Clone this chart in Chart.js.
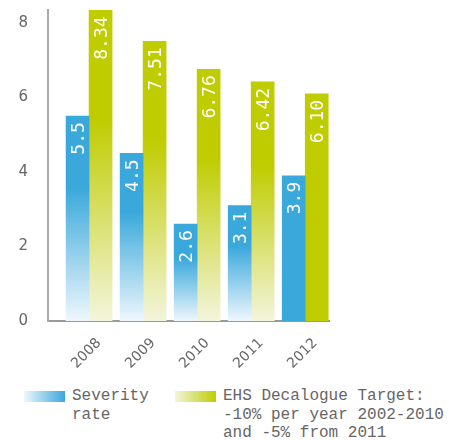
<!DOCTYPE html>
<html>
<head>
<meta charset="utf-8">
<script src="https://cdn.jsdelivr.net/npm/chart.js@4/dist/chart.umd.min.js"></script>
<style>
    body { margin: 0; background: #fff; }
    #wrap { position: relative; width: 449px; height: 440px; }
    #js--chart { position: absolute; left: 0; top: 0; }
    .legend { position: absolute; font: 16px "Liberation Mono", monospace; color: #666; line-height: 18.5px; white-space: pre; }
    .swatch { position: absolute; width: 41px; height: 11px; }
</style>
</head>
<body>
<div id="wrap">
    <canvas id="js--chart" width="449" height="372"></canvas>
    <div class="swatch" style="left:24px; top:391px; background: linear-gradient(to right, #eef7fd, #3aa8db);"></div>
    <div class="legend" style="left:72px; top:387px;">Severity
rate</div>
    <div class="swatch" style="left:175px; top:391px; background: linear-gradient(to right, #f3f5dc, #bfcc00);"></div>
    <div class="legend" style="left:223px; top:387px;">EHS Decalogue Target:
-10% per year 2002-2010
and -5% from 2011</div>
</div>
<script>
const years = [2008, 2009, 2010, 2011, 2012];
const severity = [5.5, 4.5, 2.6, 3.1, 3.9];
const target = [8.34, 7.51, 6.76, 6.42, 6.10];
const yTicks = [0, 2, 4, 6, 8];

const blue = '#3aa8db';
const green = '#bfcc00';

// past years fade out towards the axis, the current year stays solid
function fade(color, light) {
    return function (ctx) {
        const chart = ctx.chart;
        if (!chart.chartArea || ctx.type !== 'data') return color;
        if (ctx.dataIndex === years.length - 1) return color;
        const y = chart.scales.y;
        const top = y.getPixelForValue(ctx.raw.y);
        const bottom = y.getPixelForValue(0);
        const g = chart.ctx.createLinearGradient(0, top, 0, bottom);
        g.addColorStop(0, color);
        g.addColorStop(0.35, color);
        g.addColorStop(1, light);
        return g;
    };
}

// values written up the bar, ending just under its top
const valueLabels = {
    id: 'valueLabels',
    afterDatasetsDraw(chart) {
        const ctx = chart.ctx;
        ctx.save();
        ctx.fillStyle = '#fff';
        ctx.font = '18px "DejaVu Sans Mono", monospace';
        ctx.textAlign = 'right';
        ctx.textBaseline = 'alphabetic';
        chart.data.datasets.forEach(function (ds, i) {
            chart.getDatasetMeta(i).data.forEach(function (bar, j) {
                ctx.save();
                ctx.translate(bar.x, bar.y + 6);
                ctx.rotate(-Math.PI / 2);
                ctx.fillText(ds.data[j].y.toFixed(ds.decimals), 0, 6.5);
                ctx.restore();
            });
        });
        ctx.restore();
    }
};

const data = {
    datasets: [
        {
            label: 'Severity rate',
            data: years.map((yr, i) => ({ x: yr, y: severity[i] })),
            backgroundColor: fade(blue, '#eef7fd'),
            decimals: 1,
        },
        {
            label: 'EHS Decalogue Target',
            data: years.map((yr, i) => ({ x: yr, y: target[i] })),
            backgroundColor: fade(green, '#f3f5dc'),
            decimals: 2,
        }
    ]
};

const config = {
    type: 'bar',
    data: data,
    plugins: [valueLabels],
    options: {
        responsive: false,
        animation: false,
        devicePixelRatio: 1,
        barThickness: 23,
        layout: { padding: { top: 10, right: 120, left: 0, bottom: 0 } },
        plugins: { legend: { display: false }, tooltip: { enabled: false } },
        scales: {
            x: {
                type: 'linear',
                bounds: 'data',
                offset: false,
                min: 2007.24,
                max: 2012.44,
                afterBuildTicks: function (scale) { scale.ticks = years.map(v => ({ value: v })); },
                afterFit: function (scale) {
                    scale.height = 51;
                    scale.paddingLeft = 0;
                    scale.paddingRight = 0;
                },
                grid: { display: false, drawTicks: false },
                border: { color: '#999', width: 2 },
                ticks: {
                    minRotation: 45,
                    maxRotation: 45,
                    padding: 14,
                    labelOffset: 10,
                    color: '#666',
                    font: { family: 'DejaVu Sans', size: 14 },
                    callback: v => String(v),
                }
            },
            y: {
                bounds: 'data',
                min: 0,
                max: 8.35,
                afterBuildTicks: function (scale) { scale.ticks = yTicks.map(v => ({ value: v })); },
                afterFit: function (scale) {
                    scale.width = 48;
                    scale.paddingTop = 0;
                    scale.paddingBottom = 0;
                },
                grid: { display: false, drawTicks: false },
                border: { color: '#aaa', width: 2 },
                ticks: {
                    padding: 20,
                    color: '#666',
                    font: { family: 'DejaVu Sans', size: 15 },
                }
            }
        }
    }
};

new Chart(document.getElementById('js--chart'), config);
</script>
</body>
</html>
